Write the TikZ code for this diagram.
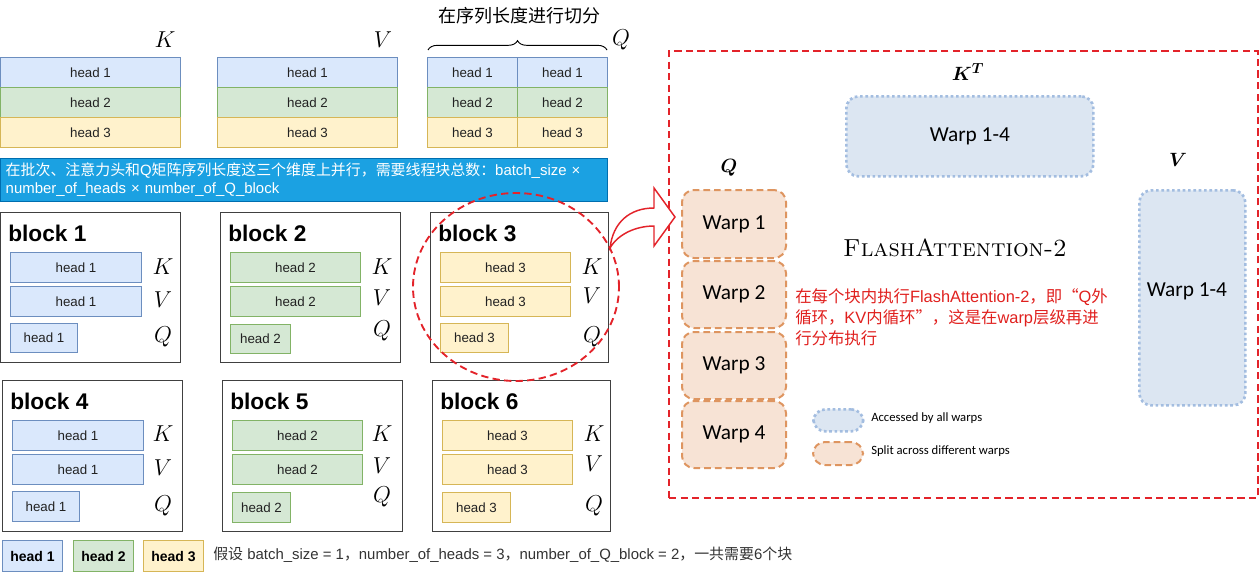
\documentclass[tikz,border=0pt]{standalone}
\usepackage{amsmath,bm}
\usepackage[no-math]{fontspec}
\newfontfamily\arial{Liberation Sans}
\newfontfamily\cjk{Noto Sans CJK SC}
\newfontfamily\calib{Carlito}
\usetikzlibrary{decorations.pathreplacing}
\definecolor{bfill}{HTML}{DAE8FC}\definecolor{bline}{HTML}{6C8EBF}
\definecolor{gfill}{HTML}{D5E8D4}\definecolor{gline}{HTML}{82B366}
\definecolor{yfill}{HTML}{FFF2CC}\definecolor{yline}{HTML}{D6B656}
\definecolor{bannerc}{HTML}{1BA1E2}\definecolor{bannerl}{HTML}{006EAF}
\definecolor{myred}{HTML}{E3232A}
\definecolor{wfill}{HTML}{F7E3D5}\definecolor{wline}{HTML}{DE9560}
\definecolor{afill}{HTML}{DCE6F2}\definecolor{aline}{HTML}{A3BDE0}
\definecolor{txtred}{HTML}{E0201E}
\definecolor{dtext}{HTML}{222222}
\newcommand\cel[7]{\node[#1, anchor=north west, minimum width={#5*0.75pt}, minimum height={#6*0.75pt}] (#2) at (#3,#4) {#7};}
\tikzset{
  cbase/.style={draw, line width=0.8pt, inner sep=0pt, text=dtext, font=\arial\fontsize{10}{12}\selectfont},
  cb/.style={cbase, draw=bline, fill=bfill},
  cg/.style={cbase, draw=gline, fill=gfill},
  cy/.style={cbase, draw=yline, fill=yfill},
  lb/.style={cb, font=\arial\bfseries\fontsize{10.5}{12}\selectfont, text=black},
  lg/.style={cg, font=\arial\bfseries\fontsize{10.5}{12}\selectfont, text=black},
  ly/.style={cy, font=\arial\bfseries\fontsize{10.5}{12}\selectfont, text=black},
  blk/.style={draw=black!75, line width=1pt, inner sep=0pt},
  btitle/.style={anchor=west, inner sep=0pt, font=\arial\bfseries\fontsize{17}{20}\selectfont},
  mlab/.style={inner sep=0pt, font=\fontsize{16}{18}\selectfont},
  blab/.style={inner sep=0pt, font=\fontsize{15}{18}\selectfont},
  reddash/.style={draw=myred, line width=1.4pt, dash pattern=on 5.5pt off 3.2pt},
  acc/.style={draw=aline, fill=afill, line width=2pt, dotted, rounded corners=9pt, inner sep=0pt, font=\calib\fontsize{16}{19}\selectfont},
  spl/.style={draw=wline, fill=wfill, line width=1.5pt, dash pattern=on 5pt off 3pt, rounded corners=9pt, inner sep=0pt, font=\calib\fontsize{16}{19}\selectfont},
  legtxt/.style={anchor=west, inner sep=0pt, font=\calib\fontsize{9.5}{11}\selectfont},
}
\begin{document}
\begin{tikzpicture}[x=0.75pt,y=-0.75pt]
\useasboundingbox (0,0) rectangle (1259,572);
% top tables
\cel{cb}{k1}{0}{57}{180}{30}{head 1}
\cel{cg}{k2}{0}{87}{180}{30}{head 2}
\cel{cy}{k3}{0}{117}{180}{30}{head 3}
\cel{cb}{v1}{217}{57}{180}{30}{head 1}
\cel{cg}{v2}{217}{87}{180}{30}{head 2}
\cel{cy}{v3}{217}{117}{180}{30}{head 3}
\cel{cb}{qa1}{427}{57}{90}{30}{head 1}
\cel{cb}{qb1}{517}{57}{90}{30}{head 1}
\cel{cg}{qa2}{427}{87}{90}{30}{head 2}
\cel{cg}{qb2}{517}{87}{90}{30}{head 2}
\cel{cy}{qa3}{427}{117}{90}{30}{head 3}
\cel{cy}{qb3}{517}{117}{90}{30}{head 3}
\node[mlab] (lk) at (165,40) {$K$};
\node[mlab] (lv) at (383,40) {$V$};
\node[mlab] (lq) at (621,40) {$Q$};
\coordinate (brl) at (428,50);
\coordinate (brr) at (607,50);
\draw[line width=0.7pt, decorate, decoration={brace, amplitude=7pt}] (brl) -- (brr);
\node[inner sep=0pt, font=\cjk\fontsize{13.5}{15}\selectfont] (split) at (519,16) {在序列长度进行切分};
% banner
\node[draw=bannerl, fill=bannerc, line width=0.6pt, anchor=north west, text width=447pt, inner xsep=4pt, minimum height=30.75pt, align=left, text=white, font=\arial\fontsize{11.2}{13.5}\selectfont] (banner) at (0,158)
 {{\cjk 在批次、注意力头和}Q{\cjk 矩阵序列长度这三个维度上并行，需要线程块总数：}batch\_size ×\\number\_of\_heads × number\_of\_Q\_block};
% blocks row 1
\cel{blk}{b1}{0}{212}{180}{150}{}
\node[btitle] (t1) at (8,233) {block 1};
\cel{cb}{b1k}{10}{252}{131}{30}{head 1}
\cel{cb}{b1v}{10}{286}{131}{30}{head 1}
\cel{cb}{b1q}{10}{323}{67}{29}{head 1}
\node[mlab] (b1lk) at (163,267) {$K$};
\node[mlab] (b1lv) at (163,300) {$V$};
\node[mlab] (b1lq) at (163,337) {$Q$};
\cel{blk}{b2}{220}{212}{180}{150}{}
\node[btitle] (t2) at (228,233) {block 2};
\cel{cg}{b2k}{230}{252}{130}{30}{head 2}
\cel{cg}{b2v}{230}{286}{130}{30}{head 2}
\cel{cg}{b2q}{230}{324}{60}{29}{head 2}
\node[mlab] (b2lk) at (382,267) {$K$};
\node[mlab] (b2lv) at (382,298) {$V$};
\node[mlab] (b2lq) at (382,331) {$Q$};
\cel{blk}{b3}{430}{212}{178}{150}{}
\node[btitle] (t3) at (438,233) {block 3};
\cel{cy}{b3k}{440}{252}{130}{30}{head 3}
\cel{cy}{b3v}{440}{286}{130}{30}{head 3}
\cel{cy}{b3q}{440}{323}{68}{29}{head 3}
\node[mlab] (b3lk) at (592,267) {$K$};
\node[mlab] (b3lv) at (592,296) {$V$};
\node[mlab] (b3lq) at (592,337) {$Q$};
% blocks row 2
\cel{blk}{b4}{2}{380}{180}{151}{}
\node[btitle] (t4) at (10,401) {block 4};
\cel{cb}{b4k}{12}{420}{131}{30}{head 1}
\cel{cb}{b4v}{12}{454}{131}{30}{head 1}
\cel{cb}{b4q}{12}{491}{67}{30}{head 1}
\node[mlab] (b4lk) at (163,434) {$K$};
\node[mlab] (b4lv) at (163,468) {$V$};
\node[mlab] (b4lq) at (163,506) {$Q$};
\cel{blk}{b5}{222}{380}{180}{151}{}
\node[btitle] (t5) at (230,401) {block 5};
\cel{cg}{b5k}{232}{420}{130}{30}{head 2}
\cel{cg}{b5v}{232}{454}{130}{30}{head 2}
\cel{cg}{b5q}{232}{492}{58}{30}{head 2}
\node[mlab] (b5lk) at (382,434) {$K$};
\node[mlab] (b5lv) at (382,466) {$V$};
\node[mlab] (b5lq) at (382,497) {$Q$};
\cel{blk}{b6}{432}{380}{178}{151}{}
\node[btitle] (t6) at (440,401) {block 6};
\cel{cy}{b6k}{442}{420}{130}{30}{head 3}
\cel{cy}{b6v}{442}{454}{130}{30}{head 3}
\cel{cy}{b6q}{442}{492}{68}{30}{head 3}
\node[mlab] (b6lk) at (594,434) {$K$};
\node[mlab] (b6lv) at (594,464) {$V$};
\node[mlab] (b6lq) at (594,506) {$Q$};
% bottom legend
\cel{lb}{l1}{2}{540}{60}{31}{head 1}
\cel{lg}{l2}{73}{540}{60}{31}{head 2}
\cel{ly}{l3}{143}{540}{60}{31}{head 3}
\node[anchor=west, inner sep=0pt, text=black!80, font=\arial\fontsize{11.2}{13}\selectfont] (assume) at (213,555)
 {{\cjk 假设} batch\_size = 1{\cjk ，}number\_of\_heads = 3{\cjk ，}number\_of\_Q\_block = 2{\cjk ，一共需要}6{\cjk 个块}};
% red circle
\coordinate (cc) at (516,287);
\draw[reddash] (cc) ellipse [x radius=77.25pt, y radius=70.5pt];
% right frame
\cel{reddash}{frame}{668}{50}{589}{447}{}
\node[blab] (lkt) at (968,72) {$\bm{K^T}$};
\cel{acc}{ktb}{845}{95}{247}{80}{Warp 1-4}
\node[blab] (lq2) at (729,168) {$\bm{Q}$};
\cel{spl}{w1}{681}{189}{104}{68}{Warp 1}
\cel{spl}{w2}{681}{260}{104}{67}{Warp 2}
\cel{spl}{w3}{681}{331}{104}{67}{Warp 3}
\cel{spl}{w4}{681}{400}{104}{67}{Warp 4}
\node[blab] (lv2) at (1178,160) {$\bm{V}$};
\cel{acc}{vb}{1138}{189}{106}{215}{}
\node[inner sep=0pt, font=\calib\fontsize{16}{19}\selectfont] (vbt) at (1187,291) {Warp 1-4};
\node[inner sep=0pt, font=\fontsize{18.5}{22}\selectfont] (fa) at (955,248) {\textsc{FlashAttention-2}};
\node[anchor=north west, inner sep=0pt, align=left, text=txtred, font=\arial\fontsize{12.3}{15.75}\selectfont] (note) at (795,288)
 {{\cjk 在每个块内执行}FlashAttention-2{\cjk ，即“}Q{\cjk 外}\\{\cjk 循环，}KV{\cjk 内循环”，这是在}warp{\cjk 层级再进}\\{\cjk 行分布执行}};
\cel{acc}{la}{812}{408}{50}{22}{}
\node[legtxt] (lat) at (871,418) {Accessed by all warps};
\cel{spl}{ls}{812}{441}{50}{23}{}
\node[legtxt] (lst) at (871,451) {Split across different warps};
% curved block arrow
\coordinate (atail) at (610,248);
\coordinate (atip) at (675,217);
\draw[draw=myred, fill=white, line width=1.1pt, line join=miter]
  (atail) .. controls (613,222) and (630,208) .. (654,208) -- (654,188) -- (atip) -- (654,246) -- (654,226)
  .. controls (636,226) and (618,234) .. (atail) -- cycle;
\end{tikzpicture}
\end{document}
